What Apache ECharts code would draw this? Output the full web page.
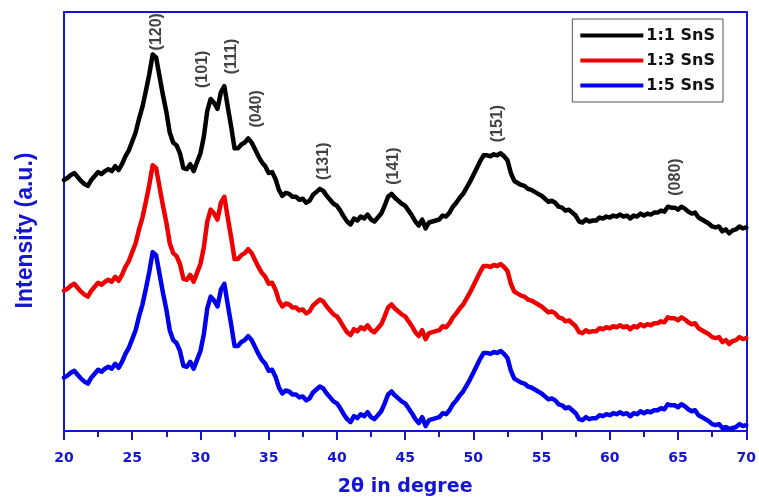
<!DOCTYPE html>
<html>
<head>
<meta charset="utf-8">
<title>XRD patterns of SnS</title>
<script src="https://cdn.jsdelivr.net/npm/echarts@6/dist/echarts.min.js"></script>
<style>
  html, body { margin: 0; padding: 0; background: #ffffff; }
  #chart { width: 759px; height: 502px; }
</style>
</head>
<body>
<div id="chart"></div>
<script>
// 2-theta scan positions (degrees)
const twoTheta = [20,20.25,20.5,20.75,21,21.25,21.5,21.75,22,22.25,22.5,22.75,23,23.25,23.5,23.75,24,24.25,24.5,24.75,25,25.25,25.5,25.75,26,26.25,26.5,26.75,27,27.25,27.5,27.75,28,28.25,28.5,28.75,29,29.25,29.5,29.75,30,30.25,30.5,30.75,31,31.25,31.5,31.75,32,32.25,32.5,32.75,33,33.25,33.5,33.75,34,34.25,34.5,34.75,35,35.25,35.5,35.75,36,36.25,36.5,36.75,37,37.25,37.5,37.75,38,38.25,38.5,38.75,39,39.25,39.5,39.75,40,40.25,40.5,40.75,41,41.25,41.5,41.75,42,42.25,42.5,42.75,43,43.25,43.5,43.75,44,44.25,44.5,44.75,45,45.25,45.5,45.75,46,46.25,46.5,46.75,47,47.25,47.5,47.75,48,48.25,48.5,48.75,49,49.25,49.5,49.75,50,50.25,50.5,50.75,51,51.25,51.5,51.75,52,52.25,52.5,52.75,53,53.25,53.5,53.75,54,54.25,54.5,54.75,55,55.25,55.5,55.75,56,56.25,56.5,56.75,57,57.25,57.5,57.75,58,58.25,58.5,58.75,59,59.25,59.5,59.75,60,60.25,60.5,60.75,61,61.25,61.5,61.75,62,62.25,62.5,62.75,63,63.25,63.5,63.75,64,64.25,64.5,64.75,65,65.25,65.5,65.75,66,66.25,66.5,66.75,67,67.25,67.5,67.75,68,68.25,68.5,68.75,69,69.25,69.5,69.75,70];

// Intensities (a.u., stacked with vertical offsets)
const intensity11 = [254,256,259,261,257,253,250,248,254,258,262,260,263,265,263,268,264,270,278,284,293,302,316,328,344,361,381,378,359,340,323,302,292,289,281,266,265,270,263,272,281,298,324,336,332,326,343,349,328,308,286,286,290,292,296,292,285,278,272,268,261,262,255,244,238,241,240,237,237,234,235,231,233,239,242,245,243,238,234,230,228,223,217,212,209,215,213,217,215,219,214,212,216,220,228,237,240,236,233,230,228,223,218,212,208,214,205,211,212,213,214,218,217,221,227,231,236,240,246,252,259,266,273,279,279,278,280,279,281,278,274,261,253,251,249,248,245,244,242,240,238,235,232,233,231,227,226,223,224,221,218,212,211,214,212,213,213,216,215,217,216,218,217,219,217,218,215,218,217,220,218,220,219,221,221,223,222,227,226,226,224,227,225,222,220,221,216,214,212,210,207,206,207,202,204,200,203,204,207,205,206];

const intensity13 = [142,144,147,149,145,141,138,136,142,146,150,148,151,153,151,156,152,158,166,172,181,190,204,216,232,249,269,266,247,228,211,190,180,177,169,154,153,158,151,160,169,186,212,224,220,214,231,237,216,196,174,174,178,180,184,180,173,166,160,156,149,150,143,132,126,129,128,125,125,122,123,119,121,127,130,133,131,126,122,118,116,111,105,100,97,103,101,105,103,107,102,100,104,108,116,125,128,124,121,118,116,111,106,100,96,102,93,99,100,101,102,106,105,109,115,119,124,128,134,140,147,154,161,167,167,166,168,167,169,166,162,149,141,139,137,136,133,132,130,128,126,123,120,121,119,115,114,111,112,109,106,100,99,102,100,101,101,104,103,105,104,106,105,107,105,106,103,106,105,108,106,108,107,109,109,111,110,115,114,114,112,115,113,110,108,109,104,102,100,98,95,94,95,90,92,88,91,92,95,93,94];

const intensity15 = [54,56,59,61,57,53,50,48,54,58,62,60,63,65,63,68,64,70,78,84,93,102,116,128,144,161,181,178,159,140,123,102,92,89,81,66,65,70,63,72,81,98,124,136,132,126,143,149,128,108,86,86,90,92,96,92,85,78,72,68,61,62,55,44,38,41,40,37,37,34,35,31,33,39,42,45,43,38,34,30,28,23,17,12,9,15,13,17,15,19,14,12,16,20,28,37,40,36,33,30,28,23,18,12,8,14,5,11,12,13,14,18,17,21,27,31,36,40,46,52,59,66,73,79,79,78,80,79,81,78,74,61,53,51,49,48,45,44,42,40,38,35,32,33,31,27,26,23,24,21,18,12,11,14,12,13,13,16,15,17,16,18,17,19,17,18,15,18,17,20,18,20,19,21,21,23,22,27,26,26,24,27,25,22,20,21,16,14,12,10,7,6,7,3,4,2,3,4,7,5,6];

const seriesNames = ['1:1 SnS', '1:3 SnS', '1:5 SnS'];
const seriesColors = ['#000000', '#ee0000', '#0000ee'];

// Miller-index annotations: label text, 2-theta and height of the label centre
const peakLabels = ['(120)', '(101)', '(111)', '(040)', '(131)', '(141)', '(151)', '(080)'];
const peakTheta  = [26.75, 30.15, 32.3, 34.1, 39.05, 44.15, 51.75, 64.8];
const peakLabelY = [404, 366, 379, 326, 273, 268, 311, 257];

const axisBlue = '#1414d4';
const wideFont = '"DejaVu Sans", sans-serif';

const pairs = (ys) => twoTheta.map((t, i) => [t, ys[i]]);
const curves = [intensity11, intensity13, intensity15];

const chart = echarts.init(document.getElementById('chart'), null, { renderer: 'canvas' });

const option = {
  backgroundColor: '#ffffff',
  animation: false,
  grid: { left: 64, right: 11, top: 12, bottom: 66 },
  legend: {
    data: seriesNames,
    orient: 'vertical',
    right: 36,
    top: 19,
    icon: 'rect',
    itemWidth: 63,
    itemHeight: 4,
    itemGap: 8,
    padding: [8, 8, 8, 8],
    borderColor: '#555555',
    borderWidth: 1,
    backgroundColor: '#ffffff',
    textStyle: {
      fontFamily: wideFont,
      fontWeight: 'bold',
      fontSize: 16,
      lineHeight: 17,
      color: '#111111',
      padding: [0, 0, 0, -2]
    }
  },
  xAxis: [
    {
      type: 'value',
      min: 20,
      max: 70,
      interval: 5,
      name: '2θ in degree',
      nameLocation: 'middle',
      nameGap: 47,
      nameTextStyle: { fontFamily: wideFont, fontWeight: 'bold', fontSize: 19, color: axisBlue },
      axisLine: { show: true, onZero: false, lineStyle: { color: axisBlue, width: 2 } },
      axisTick: { show: true, inside: false, length: 9, lineStyle: { color: axisBlue, width: 2 } },
      minorTick: { show: true, splitNumber: 2, length: 6, lineStyle: { color: axisBlue, width: 2 } },
      axisLabel: { margin: 20, fontFamily: wideFont, fontWeight: 'bold', fontSize: 14, color: axisBlue },
      splitLine: { show: false }
    },
    {
      type: 'value',
      position: 'top',
      min: 20,
      max: 70,
      axisLine: { show: true, onZero: false, lineStyle: { color: axisBlue, width: 2 } },
      axisTick: { show: false },
      axisLabel: { show: false },
      splitLine: { show: false }
    }
  ],
  yAxis: [
    {
      type: 'value',
      min: 0,
      max: 424,
      name: 'Intensity (a.u.)',
      nameLocation: 'middle',
      nameGap: 27,
      nameTextStyle: {
        fontFamily: '"Liberation Sans", Arial, sans-serif',
        fontWeight: 'bold',
        fontSize: 23,
        color: axisBlue,
        padding: [0, 0, 0, -18]
      },
      axisLine: { show: true, onZero: false, lineStyle: { color: axisBlue, width: 2 } },
      axisTick: { show: false },
      axisLabel: { show: false },
      splitLine: { show: false }
    },
    {
      type: 'value',
      position: 'right',
      min: 0,
      max: 424,
      axisLine: { show: true, onZero: false, lineStyle: { color: axisBlue, width: 2 } },
      axisTick: { show: false },
      axisLabel: { show: false },
      splitLine: { show: false }
    }
  ],
  series: curves.map((ys, k) => ({
    name: seriesNames[k],
    type: 'line',
    data: pairs(ys),
    showSymbol: false,
    symbol: 'none',
    smooth: false,
    clip: true,
    lineStyle: { color: seriesColors[k], width: 4.5, join: 'round', cap: 'round' },
    itemStyle: { color: seriesColors[k] },
    z: 3 - k
  })).concat([{
    name: 'hkl',
    type: 'scatter',
    symbolSize: 0,
    silent: true,
    data: peakLabels.map((txt, i) => ({ name: txt, value: [peakTheta[i], peakLabelY[i]] })),
    label: {
      show: true,
      position: 'inside',
      rotate: 90,
      formatter: (p) => p.name,
      fontFamily: '"Liberation Sans", Arial, sans-serif',
      fontWeight: 'bold',
      fontSize: 16,
      color: '#111111'
    },
    z: 5
  }])
};

chart.setOption(option);
</script>
</body>
</html>
